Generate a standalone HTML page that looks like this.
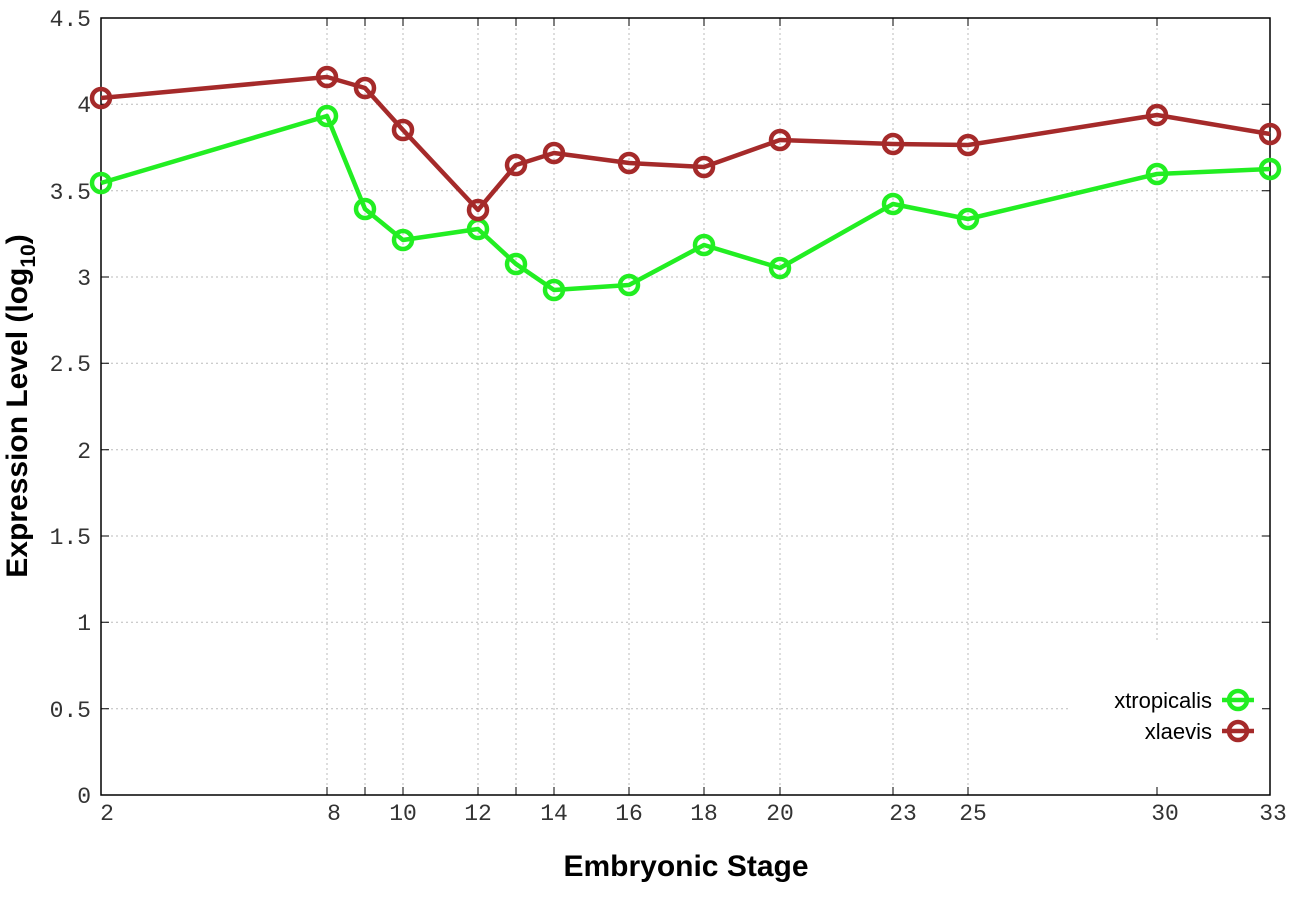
<!DOCTYPE html>
<html><head><meta charset="utf-8"><style>body{margin:0;background:#fff}svg{display:block}</style></head><body>
<svg width="1296" height="907" xmlns="http://www.w3.org/2000/svg">
<rect width="1296" height="907" fill="#fff"/>
<g stroke="#bbb" stroke-width="1" stroke-dasharray="2,3">
<line x1="101" y1="708.7" x2="1070" y2="708.7"/>
<line x1="101" y1="622.3" x2="1270" y2="622.3"/>
<line x1="101" y1="536" x2="1270" y2="536"/>
<line x1="101" y1="449.7" x2="1270" y2="449.7"/>
<line x1="101" y1="363.3" x2="1270" y2="363.3"/>
<line x1="101" y1="277" x2="1270" y2="277"/>
<line x1="101" y1="190.7" x2="1270" y2="190.7"/>
<line x1="101" y1="104.3" x2="1270" y2="104.3"/>
<line x1="327" y1="18" x2="327" y2="795"/>
<line x1="365" y1="18" x2="365" y2="795"/>
<line x1="403" y1="18" x2="403" y2="795"/>
<line x1="478" y1="18" x2="478" y2="795"/>
<line x1="516" y1="18" x2="516" y2="795"/>
<line x1="554" y1="18" x2="554" y2="795"/>
<line x1="629" y1="18" x2="629" y2="795"/>
<line x1="704" y1="18" x2="704" y2="795"/>
<line x1="780" y1="18" x2="780" y2="795"/>
<line x1="893" y1="18" x2="893" y2="795"/>
<line x1="968" y1="18" x2="968" y2="795"/>
<line x1="1157" y1="18" x2="1157" y2="640"/>
</g>
<rect x="101" y="18" width="1169" height="777" fill="none" stroke="#000" stroke-width="1.5"/>
<g stroke="#000" stroke-width="1">
<path d="M101 708.7h8M101 622.3h8M101 536h8M101 449.7h8M101 363.3h8M101 277h8M101 190.7h8M101 104.3h8"/>
<path d="M1270 708.7h-8M1270 622.3h-8M1270 536h-8M1270 449.7h-8M1270 363.3h-8M1270 277h-8M1270 190.7h-8M1270 104.3h-8"/>
<path d="M327 795v-8M365 795v-8M403 795v-8M478 795v-8M516 795v-8M554 795v-8M629 795v-8M704 795v-8M780 795v-8M893 795v-8M968 795v-8M1157 795v-8"/>
<path d="M327 18v8M365 18v8M403 18v8M478 18v8M516 18v8M554 18v8M629 18v8M704 18v8M780 18v8M893 18v8M968 18v8M1157 18v8"/>
</g>
<g font-family="Liberation Mono, monospace" font-size="23" fill="#333" text-anchor="end">
<text x="91" y="803">0</text>
<text x="91" y="717">0.5</text>
<text x="91" y="630">1</text>
<text x="91" y="544">1.5</text>
<text x="91" y="458">2</text>
<text x="91" y="371">2.5</text>
<text x="91" y="285">3</text>
<text x="91" y="199">3.5</text>
<text x="91" y="112">4</text>
<text x="91" y="26">4.5</text>
</g>
<g font-family="Liberation Mono, monospace" font-size="23" fill="#333" text-anchor="middle">
<text x="107" y="820">2</text><text x="334" y="820">8</text><text x="403" y="820">10</text><text x="478" y="820">12</text><text x="554" y="820">14</text><text x="629" y="820">16</text><text x="704" y="820">18</text><text x="780" y="820">20</text><text x="903" y="820">23</text><text x="973" y="820">25</text><text x="1165" y="820">30</text><text x="1273" y="820">33</text>
</g>
<text x="686" y="876" font-family="Liberation Sans, sans-serif" font-weight="bold" font-size="30" text-anchor="middle">Embryonic Stage</text>
<text transform="translate(27,406) rotate(-90)" font-family="Liberation Sans, sans-serif" font-weight="bold" font-size="30" text-anchor="middle">Expression Level (log<tspan font-size="21" dy="8">10</tspan><tspan dy="-8">)</tspan></text>
<g fill="none" stroke="#22ee22" stroke-width="4.5" stroke-linejoin="round">
<polyline points="101,183 327,116 365,209 403,240 478,229 516,264 554,290 629,285 704,245 780,268 893,204 968,219 1157,174 1270,169"/>
<circle cx="101" cy="183" r="9"/><circle cx="327" cy="116" r="9"/><circle cx="365" cy="209" r="9"/><circle cx="403" cy="240" r="9"/><circle cx="478" cy="229" r="9"/><circle cx="516" cy="264" r="9"/><circle cx="554" cy="290" r="9"/><circle cx="629" cy="285" r="9"/><circle cx="704" cy="245" r="9"/><circle cx="780" cy="268" r="9"/><circle cx="893" cy="204" r="9"/><circle cx="968" cy="219" r="9"/><circle cx="1157" cy="174" r="9"/><circle cx="1270" cy="169" r="9"/>
<line x1="1222" y1="700" x2="1254" y2="700"/><circle cx="1238" cy="700" r="9"/>
</g>
<g fill="none" stroke="#a52a2a" stroke-width="4.5" stroke-linejoin="round">
<polyline points="101,98 327,77 365,88 403,130 478,210 516,165 554,153 629,163 704,167 780,140 893,144 968,145 1157,115 1270,134"/>
<circle cx="101" cy="98" r="9"/><circle cx="327" cy="77" r="9"/><circle cx="365" cy="88" r="9"/><circle cx="403" cy="130" r="9"/><circle cx="478" cy="210" r="9"/><circle cx="516" cy="165" r="9"/><circle cx="554" cy="153" r="9"/><circle cx="629" cy="163" r="9"/><circle cx="704" cy="167" r="9"/><circle cx="780" cy="140" r="9"/><circle cx="893" cy="144" r="9"/><circle cx="968" cy="145" r="9"/><circle cx="1157" cy="115" r="9"/><circle cx="1270" cy="134" r="9"/>
<line x1="1222" y1="731" x2="1254" y2="731"/><circle cx="1238" cy="731" r="9"/>
</g>
<g font-family="Liberation Sans, sans-serif" font-size="22" fill="#000" text-anchor="end">
<text x="1212" y="708">xtropicalis</text>
<text x="1212" y="739">xlaevis</text>
</g>
</svg>
</body></html>
